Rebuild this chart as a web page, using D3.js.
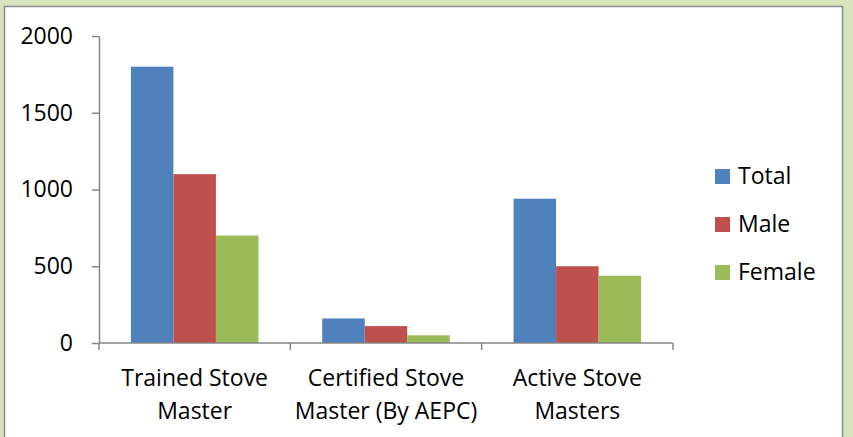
<!DOCTYPE html>
<html>
<head>
<meta charset="utf-8">
<script src="https://cdn.jsdelivr.net/npm/d3@7.9.0/dist/d3.min.js"></script>
<style>
  body { margin: 0; background: #d7e4bd; }
  svg { display: block; font-family: "Open Sans", sans-serif; }
</style>
</head>
<body>
<svg id="chart" width="853" height="437"></svg>
<script>
const categories = [["Trained Stove", "Master"], ["Certified Stove", "Master (By AEPC)"], ["Active Stove", "Masters"]];
const seriesNames = ["Total", "Male", "Female"];
const totalValues = [1800, 160, 940];
const maleValues = [1100, 110, 500];
const femaleValues = [700, 50, 438];
const yTicks = [0, 500, 1000, 1500, 2000];
const colors = ["#4f81bd", "#c0504d", "#9bbb59"];

const seriesValues = [totalValues, maleValues, femaleValues];

let svg = d3.select('#chart');

// white chart area with grey frame
svg.append('rect')
  .attr('x', 4.5).attr('y', 6.5)
  .attr('width', 838).attr('height', 440)
  .attr('fill', 'white')
  .attr('stroke', '#8c8c8c')
  .attr('stroke-width', 1.5);

let y = d3.scaleLinear().domain([0, 2000]).range([343, 36]);
let x = d3.scaleBand().domain(d3.range(categories.length)).range([99, 673]);
let bw = x.bandwidth();
let barW = bw / 4.5;
let x1 = d3.scaleBand().domain(seriesNames).range([barW * 0.75, bw - barW * 0.75]);

// bars
seriesNames.forEach((name, si) => {
  svg.append('g').selectAll('rect')
    .data(seriesValues[si])
    .join('rect')
    .attr('x', (d, i) => x(i) + x1(name))
    .attr('y', d => y(d))
    .attr('width', x1.bandwidth())
    .attr('height', d => y(0) - y(d))
    .attr('fill', colors[si]);
});

// y axis
let yAxis = svg.append('g')
  .attr('transform', 'translate(99,0)')
  .call(d3.axisLeft(y).tickValues(yTicks).tickFormat(d3.format('d'))
    .tickSize(7).tickSizeOuter(0).tickPadding(19));
yAxis.select('.domain').attr('stroke', '#868686').attr('stroke-width', 1.5);
yAxis.selectAll('.tick line').attr('stroke', '#868686').attr('stroke-width', 1.5);
yAxis.selectAll('text').attr('font-size', 23).attr('fill', '#000').attr('font-family', '"Open Sans", sans-serif');

// x axis
let xAxis = svg.append('g');
xAxis.append('line')
  .attr('x1', x.range()[0]).attr('x2', x.range()[1])
  .attr('y1', y(0)).attr('y2', y(0))
  .attr('stroke', '#868686').attr('stroke-width', 1.5);
let bounds = d3.range(categories.length).map(i => x(i)).concat([x.range()[1]]);
xAxis.selectAll('line.tick')
  .data(bounds)
  .join('line')
  .attr('class', 'tick')
  .attr('x1', d => d).attr('x2', d => d)
  .attr('y1', y(0)).attr('y2', y(0) + 7)
  .attr('stroke', '#868686').attr('stroke-width', 1.5);

xAxis.selectAll('text')
  .data(categories)
  .join('text')
  .attr('text-anchor', 'middle')
  .attr('font-size', 23)
  .attr('fill', '#000')
  .each(function (d, i) {
    let t = d3.select(this);
    d.forEach((line, li) => {
      t.append('tspan')
        .attr('x', x(i) + bw / 2)
        .attr('y', 386 + li * 33)
        .text(line);
    });
  });

// legend
let legend = svg.append('g').attr('transform', 'translate(715,169)');
seriesNames.forEach((name, i) => {
  let g = legend.append('g').attr('transform', `translate(0,${i * 48})`);
  g.append('rect').attr('width', 15).attr('height', 15).attr('fill', colors[i]);
  g.append('text')
    .attr('x', 23).attr('y', 15)
    .attr('font-size', 23)
    .attr('fill', '#000')
    .text(name);
});
</script>
</body>
</html>
